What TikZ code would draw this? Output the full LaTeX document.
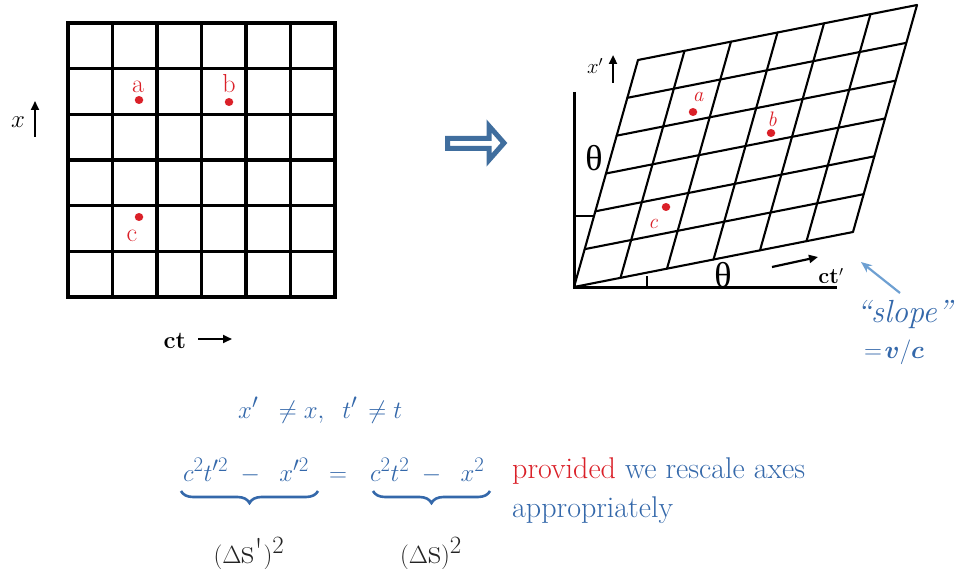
\documentclass[tikz,border=0pt]{standalone}
\usepackage{amsmath,bm}
\usepackage{fontspec}
\newfontfamily\grk{Liberation Serif}
\usetikzlibrary{arrows.meta,decorations.pathreplacing,shapes.geometric}
\definecolor{myblue}{RGB}{52,104,170}
\definecolor{myred}{RGB}{218,32,40}
\definecolor{arrowblue}{RGB}{64,110,158}
\definecolor{lightblue}{RGB}{110,160,210}
\definecolor{dark}{RGB}{35,35,35}
\begin{document}
\begin{tikzpicture}[x=1pt,y=-1pt,
  gridline/.style={line width=3.3pt,black,line cap=rect},
  pgrid/.style={line width=2.1pt,black,line cap=round},
  axisline/.style={line width=3pt,black},
  dot/.style={ellipse,fill=myred,inner sep=0pt,minimum width=8.5pt,minimum height=8pt},
  redlbl/.style={text=myred,inner sep=0pt,anchor=base,font=\fontsize{26}{28}\selectfont},
  redit/.style={text=myred,inner sep=0pt,font=\fontsize{21}{23}\selectfont\itshape},
  blk/.style={-{Triangle[length=9pt,width=8pt]},line width=2.2pt,black},
  thetalbl/.style={inner sep=0pt,font=\fontsize{36}{38}\grk},
  bluetxt/.style={inner sep=0pt,text=myblue,anchor=base west,font=\fontsize{30}{34}\selectfont},
  bracestyle/.style={decorate,decoration={brace,mirror,amplitude=12pt},line width=2.6pt,myblue}
]
\useasboundingbox (0,0) rectangle (955,569);
% ---------- left grid ----------
\foreach \i in {0,...,6} {
  \draw[gridline] ({68+\i*44.5},23) -- ({68+\i*44.5},297);
  \draw[gridline] (68,{23+\i*45.67}) -- (335,{23+\i*45.67});
}
\node[dot] (pa) at (139,100) {};
\node[redlbl] (la) at (138,93) {a};
\node[dot] (pb) at (229,102) {};
\node[redlbl] (lb) at (229,93) {b};
\node[dot] (pc) at (139,217) {};
\node[redlbl] (lc) at (132,242) {c};
\node[inner sep=0pt,font=\fontsize{25}{27}\selectfont] (xl) at (18,122) {$x$};
\coordinate (xa0) at (35,137);
\coordinate (xa1) at (35,101);
\draw[blk] (xa0) -- (xa1);
\node[inner sep=0pt,anchor=base,font=\fontsize{24}{26}\selectfont\bfseries] (ctl) at (175,348) {ct};
\coordinate (ca0) at (198,339);
\coordinate (ca1) at (232,339);
\draw[blk] (ca0) -- (ca1);
% ---------- transform arrow ----------
\draw[line width=5pt,arrowblue,fill=white,line join=miter]
  (447.5,138.5) -- (489,138.5) -- (489,126) -- (504,143) -- (489,160) -- (489,148.5) -- (447.5,148.5) -- cycle;
% ---------- right axes ----------
\coordinate (O) at (574,287);
\coordinate (yt) at (574,92);
\coordinate (xr) at (837,287);
\draw[axisline] (yt) -- (O) -- (xr);
\coordinate (t1a) at (574,216);
\coordinate (t1b) at (593,216);
\draw[line width=2pt] (t1a) -- (t1b);
\coordinate (t2a) at (647,287);
\coordinate (t2b) at (647,276);
\draw[line width=2pt] (t2a) -- (t2b);
% ---------- right grid ----------
\foreach \i in {0,...,6} {
  \draw[pgrid] ({574+\i*46.5},{287-\i*9.167}) -- ++(64,-227);
  \draw[pgrid] ({574+\i*10.667},{287-\i*37.833}) -- ++(279,-55);
}
\node[dot] (qa) at (693,112) {};
\node[redit] (qla) at (698,97) {a};
\node[dot] (qb) at (771,133) {};
\node[redit] (qlb) at (772,119) {b};
\node[dot] (qc) at (666,207) {};
\node[redit] (qlc) at (653,224) {c};
\node[thetalbl] (th1) at (594,158) {θ};
\node[thetalbl] (th2) at (723,275) {θ};
\node[inner sep=0pt,font=\fontsize{22}{24}\selectfont] (xpl) at (595,66) {$x'$};
\coordinate (xp0) at (613,83);
\coordinate (xp1) at (613,55);
\draw[blk] (xp0) -- (xp1);
\node[inner sep=0pt,font=\fontsize{22}{24}\selectfont\bfseries] (ctp) at (831,276) {ct$'$};
\coordinate (cp0) at (772,267);
\coordinate (cp1) at (818,257);
\draw[blk] (cp0) -- (cp1);
% ---------- slope annotation ----------
\node[inner sep=0pt,text=myblue,font=\fontsize{32}{34}\selectfont\itshape] (slope) at (904,314) {``slope''};
\node[inner sep=0pt,text=myblue,font=\fontsize{34}{36}\selectfont] (vc) at (894,352) {$=\!\bm{v}/\bm{c}$};
\coordinate (sa0) at (900,293);
\coordinate (sa1) at (861,262);
\draw[-{Stealth[length=11pt,width=9pt]},line width=2.2pt,lightblue] (sa0) -- (sa1);
% ---------- bottom formulas ----------
\node[bluetxt] (neq) at (238,418) {$x'\;\;\neq x,\;\; t'\,\neq t$};
\node[bluetxt] (lhs) at (183,481) {$c^2t'^2\;-\;\;x'^2$};
\node[bluetxt] (eqs) at (329,481) {$=$};
\node[bluetxt] (rhs) at (370,481) {$c^2t^2\;-\;\;x^2$};
\coordinate (b1l) at (181,491);
\coordinate (b1r) at (318,491);
\coordinate (b2l) at (373,491);
\coordinate (b2r) at (490,491);
\draw[bracestyle] (b1l) -- (b1r);
\draw[bracestyle] (b2l) -- (b2r);
\node[inner sep=0pt,anchor=base,text=dark,font=\fontsize{36}{38}\selectfont] (ds1) at (249,563) {$(\Delta\text{s\textquotesingle})^2$};
\node[inner sep=0pt,anchor=base,text=dark,font=\fontsize{36}{38}\selectfont] (ds2) at (431,563) {$(\Delta\mathrm{s})^2$};
\node[bluetxt] (prov) at (512,478) {\textcolor{myred}{provided} we rescale axes};
\node[bluetxt] (appr) at (512,517) {appropriately};
\end{tikzpicture}
\end{document}
